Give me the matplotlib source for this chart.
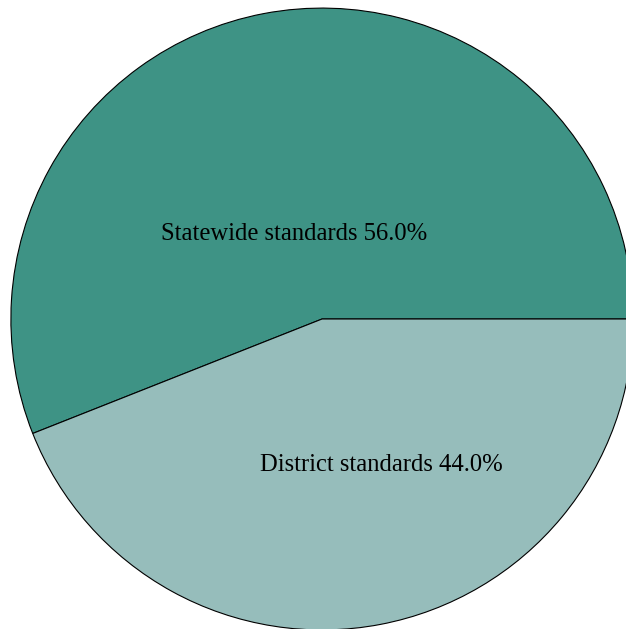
import matplotlib
matplotlib.use("Agg")
import matplotlib.pyplot as plt

labels = ["Statewide standards", "District standards"]
shares = [56.0, 44.0]
colors = ["#3e9385", "#96bdbb"]

# label positions inside the pie (data units, radius 1)
label_pos = [(-0.09, 0.275), (0.19, -0.47)]

fig = plt.figure(figsize=(6.26, 6.29), dpi=100)
ax = fig.add_axes([0, 0, 1, 1])

ax.pie(shares, colors=colors, startangle=0, counterclock=True,
       wedgeprops=dict(edgecolor="black", linewidth=0.8))

for lab, val, (x, y) in zip(labels, shares, label_pos):
    ax.text(x, y, f"{lab} {val:.1f}%", ha="center", va="center",
            fontsize=17.7, family="Liberation Serif", color="black")

ax.set_xlim(-1.035, 0.977)
ax.set_ylim(-0.997, 1.026)
ax.set_aspect("auto")
ax.axis("off")

fig.savefig("out.png", dpi=100)
